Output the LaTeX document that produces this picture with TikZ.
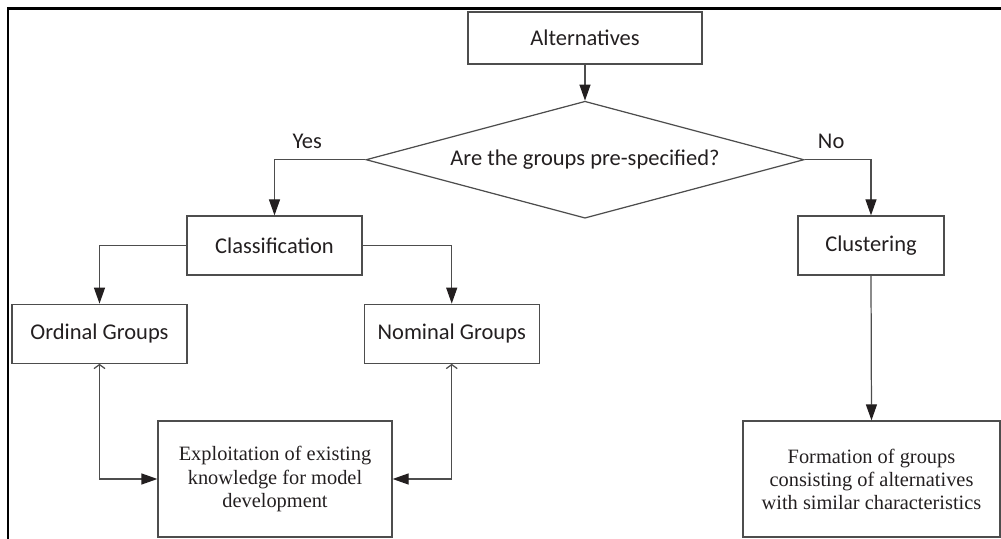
\documentclass[tikz,border=0pt]{standalone}
\usepackage{fontspec}
\setmainfont{Carlito}
\newfontfamily\seriffont{Liberation Serif}
\usepackage{tikz}
\usetikzlibrary{shapes.geometric, arrows.meta, positioning}
\definecolor{FlowInk}{HTML}{231F20}
\definecolor{FlowLine}{HTML}{4D4D4D}

\begin{document}
\begin{tikzpicture}[
      box/.style={draw=FlowLine, line width=0.7pt, align=center, inner sep=0pt, text=FlowInk, font=\fontsize{12.8}{15}\selectfont, minimum height=1.18cm},
      stepbox/.style={box, minimum width=3.5cm},
      notebox/.style={box, minimum height=2.32cm, font=\seriffont\fontsize{11.6}{13.1}\selectfont},
      decision/.style={diamond, draw=FlowLine, line width=0.7pt, aspect=3.74, inner sep=0pt, minimum width=8.76cm, minimum height=2.34cm, text=FlowInk, font=\fontsize{12.8}{15}\selectfont},
      lbl/.style={text=FlowInk, font=\fontsize{12.8}{15}\selectfont, yshift=0.1cm},
      arrow/.style={-{Triangle[length=0.32cm, width=0.22cm, color=FlowInk]}, draw=FlowLine, line width=0.7pt},
      biarrow/.style={{Straight Barb[length=0.08cm, width=0.22cm]}-{Triangle[length=0.32cm, width=0.22cm, color=FlowInk]}, draw=FlowLine, line width=0.7pt},
      frame/.style={draw=black, line width=1.7pt}
  ]
      \useasboundingbox (0,0) rectangle (20.02,-10.78);

      % Page frame (top and left edges only)
      \draw[frame] (0.16,-10.9) |- (20.2,-0.18);

      % Start and decision
      \node[box, minimum width=4.68cm, minimum height=1.04cm] (alt) at (11.70,-0.76) {Alternatives};
      \node[decision, below=0.72cm of alt] (q) {Are the groups pre-specified?};

      % Two branches
      \node[stepbox] (cls) at (5.49,-4.91) {Classification};
      \node[box, minimum width=2.92cm] (clu) at (17.42,-4.91) {Clustering};

      % Group types
      \node[stepbox, below=0.56cm of cls, xshift=-3.5cm] (ord) {Ordinal Groups};
      \node[stepbox, right=3.52cm of ord] (nom) {Nominal Groups};

      % Outcomes
      \node[notebox, minimum width=4.68cm] (expl) at (5.50,-9.58) {Exploitation of existing\\knowledge for model\\development};
      \node[notebox, minimum width=5.14cm] (form) at (17.43,-9.58) {Formation of groups\\consisting of alternatives\\with similar characteristics};

      % Connectors
      \draw[arrow] (alt) -- (q);
      \draw[arrow] (q.west) -| node[lbl, pos=0.32, above] (yes) {Yes} (cls.north);
      \draw[arrow] (q.east) -| node[lbl, pos=0.2, above] (no) {No} (clu.north);
      \draw[arrow] (cls.west) -| (ord.north);
      \draw[arrow] (cls.east) -| (nom.north);
      \draw[biarrow] (ord.south) |- (expl.west);
      \draw[biarrow] (nom.south) |- (expl.east);
      \draw[arrow] (clu.south) -- (form.north);
  \end{tikzpicture}
\end{document}
